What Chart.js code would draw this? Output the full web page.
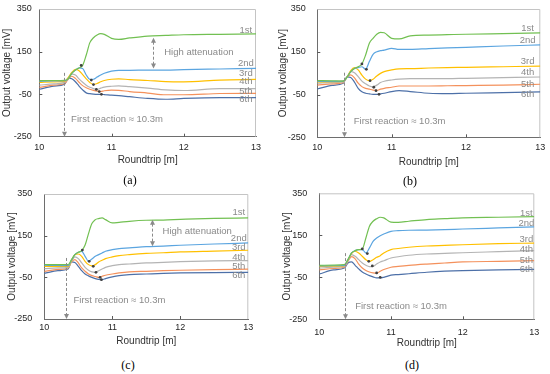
<!DOCTYPE html>
<html>
<head>
<meta charset="utf-8">
<script src="https://cdn.jsdelivr.net/npm/chart.js@4.4.1/dist/chart.umd.min.js"></script>
<style>
body { margin: 0; background: #fff; width: 550px; height: 374px; position: relative; overflow: hidden; }
.panel { position: absolute; }
.cap { position: absolute; font-family: 'Liberation Serif', 'Times New Roman', serif; font-size: 12px; color: #000; transform: translate(-50%, -50%); white-space: nowrap; }
</style>
</head>
<body>
<div class="panel" style="left:0;top:0;width:275px;height:172px"><canvas id="plot_a"></canvas></div>
<div class="panel" style="left:275px;top:0;width:275px;height:172px"><canvas id="plot_b"></canvas></div>
<div class="panel" style="left:0;top:187px;width:275px;height:165px"><canvas id="plot_c"></canvas></div>
<div class="panel" style="left:275px;top:187px;width:275px;height:165px"><canvas id="plot_d"></canvas></div>
<div class="cap" style="left:130px;top:180px">(a)</div>
<div class="cap" style="left:410px;top:181px">(b)</div>
<div class="cap" style="left:128px;top:365px">(c)</div>
<div class="cap" style="left:412px;top:365px">(d)</div>
<script>
// roundtrip [m] sample positions (shared by every curve)
const roundtrip = [10, 10.2, 10.35, 10.4, 10.45, 10.5, 10.55, 10.6, 10.65, 10.7, 10.75, 10.8, 10.85, 10.9, 11.0, 11.1, 11.25, 11.5, 11.75, 12.0, 12.5, 13.0];
const seriesNames = ['1st', '2nd', '3rd', '4th', '5th', '6th'];
const yTicks = [350, 150, -50, -250];
const xTicks = [10, 11, 12, 13];

// (a)
const a_1st = [13, 14, 15, 22, 48, 63, 73, 85, 134, 192, 215, 228, 234, 231, 212, 207, 214, 223, 226, 229, 231, 233];
const a_2nd = [10, 12, 13, 22, 48, 63, 73, 70, 40, 19, 20, 30, 40, 48, 58, 62, 62, 63, 63, 65, 68, 71];
const a_3rd = [5, 8, 10, 28, 52, 66, 60, 42, 22, 5, -5, 0, 8, 14, 20, 22, 18, 14, 9, 8, 16, 19];
const a_4th = [-8, -2, 5, 24, 44, 40, 22, 6, -8, -18, -24, -28, -22, -17, -13, -11, -15, -22, -30, -33, -24, -24];
const a_5th = [-18, -8, 0, 20, 34, 24, 6, -10, -20, -27, -32, -36, -38, -34, -31, -32, -38, -45, -53, -53, -47, -46];
const a_6th = [-27, -12, -3, 25, 22, 8, -12, -30, -44, -48, -50, -51, -51, -52, -55, -57, -62, -70, -74, -70, -66, -66];
const a_minX = [10.58, 10.72, 10.75, 10.79, 10.83, 10.86];
const a_minY = [85, 16, -5, -28, -38, -51];
const a_nameY = [248, 95, 48, 8, -35, -74];

// (b)
const b_1st = [15, 14, 13, 31, 57, 72, 80, 93, 135, 190, 213, 232, 241, 239, 213, 210, 224, 228, 230, 232, 235, 238];
const b_2nd = [12, 12, 13, 31, 57, 72, 76, 80, 68, 104, 138, 150, 155, 158, 166, 161, 161, 165, 168, 171, 177, 182];
const b_3rd = [9, 10, 13, 31, 62, 76, 65, 41, 22, 15, 21, 37, 49, 57, 65, 70, 71, 74, 76, 77, 80, 83];
const b_4th = [3, 6, 9, 31, 57, 52, 34, 13, 0, -10, -14, -6, 6, 12, 18, 22, 24, 24, 24, 26, 29, 32];
const b_5th = [-6, 0, 6, 32, 42, 28, 3, -13, -21, -25, -29, -31, -25, -21, -16, -10, -10, -10, -9, -8, -6, -2];
const b_6th = [-24, -7, 3, 33, 30, 8, -21, -37, -44, -47, -49, -49, -47, -44, -36, -32, -36, -44, -46, -44, -41, -38];
const b_minX = [10.6, 10.66, 10.71, 10.76, 10.79, 10.83];
const b_minY = [93, 68, 15, -16, -32, -49];
const b_nameY = [260, 202, 104, 54, -2, -49];

// (c)
const c_1st = [11, 11, 11, 35, 59, 70, 78, 105, 160, 208, 227, 232, 235, 227, 211, 214, 219, 224, 225, 228, 233, 235];
const c_2nd = [8, 7, 6, 32, 59, 70, 75, 51, 28, 38, 51, 59, 67, 75, 83, 88, 91, 97, 100, 104, 110, 115];
const c_3rd = [2, 2, 2, 30, 59, 62, 51, 27, 11, 5, 11, 24, 32, 40, 48, 54, 59, 65, 68, 72, 76, 80];
const c_4th = [-8, -5, -2, 27, 48, 40, 19, -2, -16, -24, -26, -18, -10, -2, 6, 11, 14, 19, 22, 25, 29, 30];
const c_5th = [-21, -12, -5, 24, 35, 19, -5, -21, -34, -42, -46, -50, -45, -40, -34, -29, -24, -21, -18, -16, -13, -11];
const c_6th = [-31, -18, -10, 24, 21, 3, -18, -34, -43, -50, -56, -60, -61, -56, -48, -42, -37, -34, -31, -29, -27, -26];
const c_minX = [10.56, 10.66, 10.72, 10.76, 10.82, 10.84];
const c_minY = [81, 27, 3, -26, -50, -61];
const c_nameY = [264, 139, 94, 46, 3, -40];

// (d)
const d_1st = [7, 8, 10, 34, 66, 77, 82, 85, 137, 193, 217, 229, 236, 233, 213, 212, 217, 225, 229, 233, 236, 239];
const d_2nd = [4, 5, 7, 34, 66, 77, 82, 82, 66, 90, 121, 137, 148, 156, 169, 172, 174, 175, 177, 180, 185, 190];
const d_3rd = [1, 3, 6, 34, 63, 74, 66, 50, 34, 26, 34, 45, 53, 66, 82, 87, 93, 99, 102, 105, 110, 113];
const d_4th = [-6, -2, 2, 29, 58, 50, 34, 18, 7, 1, 2, 13, 23, 29, 42, 48, 55, 61, 64, 67, 72, 77];
const d_5th = [-15, -8, -2, 26, 48, 38, 13, -6, -18, -25, -29, -31, -21, -13, -2, 2, 7, 13, 18, 23, 26, 29];
const d_6th = [-34, -15, -6, 18, 23, 7, -10, -25, -34, -42, -48, -53, -53, -50, -40, -37, -33, -26, -21, -18, -15, -12];
const d_minX = [10.6, 10.67, 10.69, 10.74, 10.8, 10.85];
const d_minY = [85, 63, 26, 4, -29, -50];
const d_nameY = [256, 206, 129, 82, 29, -13];

const colors = ['#72c052', '#5ba5e0', '#ffc000', '#b4b4b4', '#f4915c', '#4d70a8'];
const noteColor = '#8a8a8a';
const FONT = '"Liberation Sans", Arial, sans-serif';

Chart.defaults.font.family = FONT;

const panels = [
    { id: 'plot_a', series: [a_1st, a_2nd, a_3rd, a_4th, a_5th, a_6th], minX: a_minX, minY: a_minY, nameY: a_nameY, nameX: 12.86,
      pad: {top: 9, right: 19}, yW: 39.3, xH: 35.3, yTickPad: 7.6, xTickPad: 5, yTitlePad: 1.3, xTitlePad: 5.3,
      arrowX: 10.34, arrowTop: 50, react: [10.44, -167], atten: [11.58, 215, 71, 11.73, 146] },
    { id: 'plot_b', series: [b_1st, b_2nd, b_3rd, b_4th, b_5th, b_6th], minX: b_minX, minY: b_minY, nameY: b_nameY, nameX: 12.83,
      pad: {top: 9, right: 9.7}, yW: 42.3, xH: 34.7, yTickPad: 11.6, xTickPad: 4.5, yTitlePad: 2.6, xTitlePad: 3.6,
      arrowX: 10.36, arrowTop: 52, react: [10.49, -177], atten: null },
    { id: 'plot_c', series: [c_1st, c_2nd, c_3rd, c_4th, c_5th, c_6th], minX: c_minX, minY: c_minY, nameY: c_nameY, nameX: 12.86,
      pad: {top: 7, right: 26.7}, yW: 44.3, xH: 33, yTickPad: 12, xTickPad: 3.5, yTitlePad: 6, xTitlePad: 5,
      arrowX: 10.32, arrowTop: 43, react: [10.43, -162], atten: [11.59, 227, 99, 11.74, 171] },
    { id: 'plot_d', series: [d_1st, d_2nd, d_3rd, d_4th, d_5th, d_6th], minX: d_minX, minY: d_minY, nameY: d_nameY, nameX: 12.89,
      pad: {top: 6.3, right: 15.7}, yW: 44.3, xH: 32.7, yTickPad: 12, xTickPad: 7.6, yTitlePad: 6.6, xTitlePad: 2.6,
      arrowX: 10.36, arrowTop: 65, react: [10.5, -188], atten: null }
];

function arrowHead(ctx, x, y, dir) {
    ctx.beginPath();
    ctx.moveTo(x, y);
    ctx.lineTo(x - 2.5, y - 5 * dir);
    ctx.lineTo(x + 2.5, y - 5 * dir);
    ctx.closePath();
    ctx.fill();
}

const notesPlugin = {
    id: 'notes',
    beforeDatasetsDraw(chart) {
        const ctx = chart.ctx, a = chart.chartArea;
        const xs = chart.scales.x, ys = chart.scales.y;
        ctx.save();
        ctx.strokeStyle = '#c4c4c4';
        ctx.lineWidth = 1;
        ctx.beginPath();
        ctx.moveTo(a.left, a.top + 0.5);
        ctx.lineTo(a.right - 0.5, a.top + 0.5);
        ctx.lineTo(a.right - 0.5, a.bottom);
        ctx.stroke();
        // small inward tick marks
        ctx.strokeStyle = '#595959';
        ctx.beginPath();
        [150, -50].forEach(v => {
            const py = Math.round(ys.getPixelForValue(v)) + 0.5;
            ctx.moveTo(a.left, py); ctx.lineTo(a.left + 3, py);
        });
        [11, 12].forEach(v => {
            const px = Math.round(xs.getPixelForValue(v)) + 0.5;
            ctx.moveTo(px, a.bottom); ctx.lineTo(px, a.bottom - 3);
        });
        ctx.stroke();
        ctx.restore();
    },
    afterDatasetsDraw(chart) {
        const p = chart.config.options.panel;
        const ctx = chart.ctx, a = chart.chartArea;
        const xs = chart.scales.x, ys = chart.scales.y;
        ctx.save();
        ctx.fillStyle = noteColor;
        ctx.strokeStyle = noteColor;
        ctx.lineWidth = 1;
        ctx.font = '9.5px ' + FONT;
        ctx.textBaseline = 'middle';

        // series names
        ctx.textAlign = 'center';
        seriesNames.forEach((n, i) => {
            ctx.fillText(n, xs.getPixelForValue(p.nameX), ys.getPixelForValue(p.nameY[i]));
        });

        // first reaction arrow
        const ax = Math.round(xs.getPixelForValue(p.arrowX)) + 0.5;
        ctx.setLineDash([3, 2]);
        ctx.beginPath();
        ctx.moveTo(ax, ys.getPixelForValue(p.arrowTop));
        ctx.lineTo(ax, a.bottom - 4);
        ctx.stroke();
        ctx.setLineDash([]);
        arrowHead(ctx, ax, a.bottom, 1);
        ctx.textAlign = 'left';
        ctx.fillText('First reaction \u2248 10.3m', xs.getPixelForValue(p.react[0]), ys.getPixelForValue(p.react[1]));

        // attenuation arrow
        if (p.atten) {
            const hx = Math.round(xs.getPixelForValue(p.atten[0])) + 0.5;
            const y1 = ys.getPixelForValue(p.atten[1]), y2 = ys.getPixelForValue(p.atten[2]);
            ctx.setLineDash([3, 2]);
            ctx.beginPath();
            ctx.moveTo(hx, y1 + 4);
            ctx.lineTo(hx, y2 - 4);
            ctx.stroke();
            ctx.setLineDash([]);
            arrowHead(ctx, hx, y1, -1);
            arrowHead(ctx, hx, y2, 1);
            ctx.fillText('High attenuation', xs.getPixelForValue(p.atten[3]), ys.getPixelForValue(p.atten[4]));
        }
        ctx.restore();
    }
};

panels.forEach(p => {
    const datasets = [{
        type: 'scatter',
        data: p.minX.map((x, i) => ({x: x, y: p.minY[i]})),
        pointRadius: 1.4,
        pointBackgroundColor: '#404040',
        pointBorderWidth: 0,
        showLine: false
    }];
    p.series.forEach((s, i) => {
        datasets.push({
            label: seriesNames[i],
            data: roundtrip.map((x, j) => ({x: x, y: s[j]})),
            borderColor: colors[i],
            borderWidth: 1.2,
            pointRadius: 0,
            fill: false,
            cubicInterpolationMode: 'monotone'
        });
    });

    new Chart(document.getElementById(p.id).getContext('2d'), {
        type: 'line',
        data: {datasets: datasets},
        options: {
            panel: p,
            responsive: true,
            maintainAspectRatio: false,
            animation: false,
            layout: {padding: {left: 0, top: p.pad.top, right: p.pad.right, bottom: 0}},
            plugins: {legend: {display: false}, tooltip: {enabled: false}},
            scales: {
                x: {
                    type: 'linear',
                    min: 10,
                    max: 13,
                    afterBuildTicks: s => { s.ticks = xTicks.map(v => ({value: v})); },
                    grid: {display: false, drawTicks: false},
                    border: {color: '#6e6e6e', width: 1},
                    ticks: {color: '#262626', font: {size: 9}, padding: p.xTickPad, maxRotation: 0},
                    title: {display: true, text: 'Roundtrip [m]', color: '#333', font: {size: 10}, padding: {top: 0, bottom: p.xTitlePad}},
                    afterFit: s => { s.height = p.xH; s.paddingLeft = 0; s.paddingRight = 0; }
                },
                y: {
                    min: -250,
                    max: 350,
                    afterBuildTicks: s => { s.ticks = yTicks.map(v => ({value: v})); },
                    grid: {display: false, drawTicks: false},
                    border: {color: '#6e6e6e', width: 1},
                    ticks: {color: '#262626', font: {size: 9}, padding: p.yTickPad},
                    title: {display: true, text: 'Output voltage [mV]', color: '#333', font: {size: 10}, padding: {top: p.yTitlePad, bottom: 0}},
                    afterFit: s => { s.width = p.yW; s.paddingTop = 0; s.paddingBottom = 0; }
                }
            }
        },
        plugins: [notesPlugin]
    });
});
</script>
</body>
</html>
